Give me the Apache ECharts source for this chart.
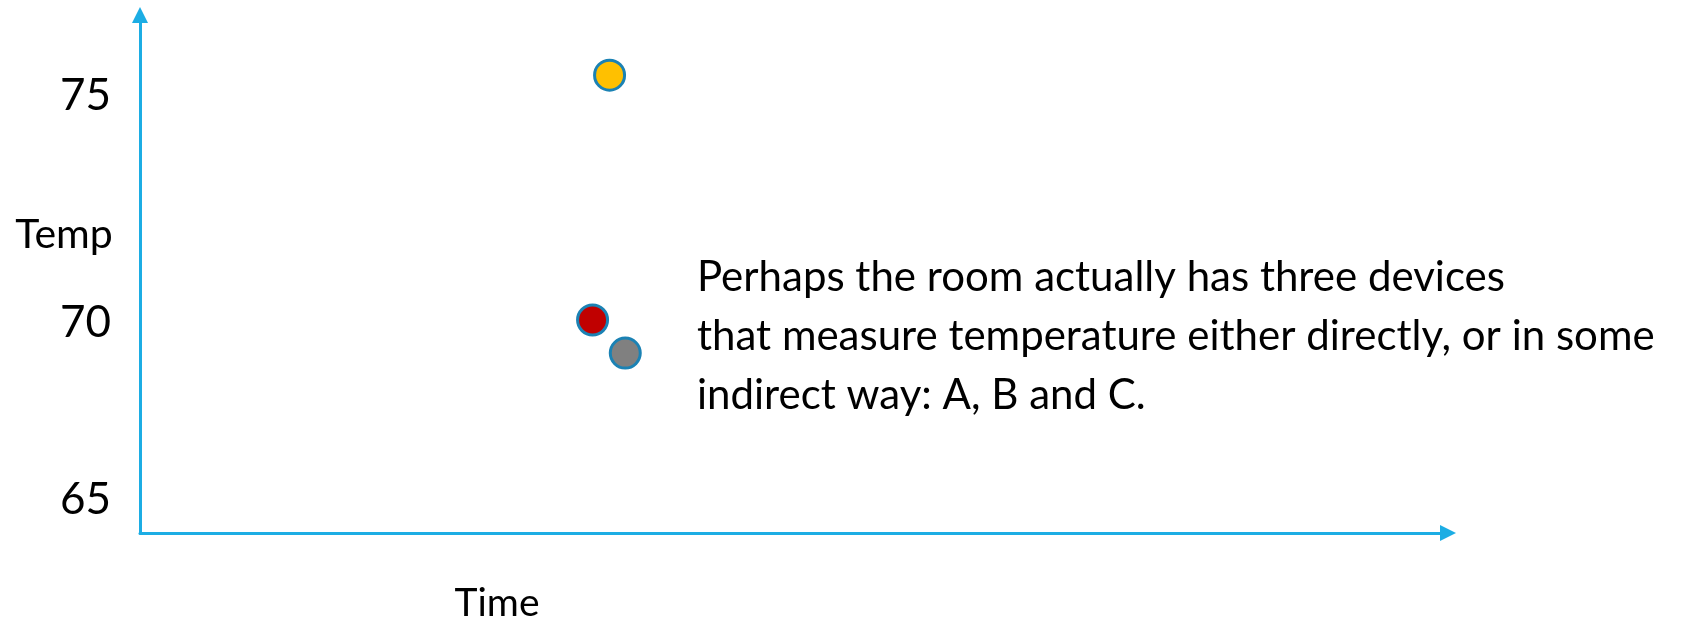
<!DOCTYPE html>
<html>
<head>
<meta charset="utf-8">
<script src="https://cdn.jsdelivr.net/npm/echarts@6/dist/echarts.min.js"></script>
<style>
html,body{margin:0;padding:0;background:#fff;}
#chart{width:1701px;height:619px;}
</style>
</head>
<body>
<div id="chart"></div>
<script>
// Data
const deviceNames = ['A', 'B', 'C'];
const deviceColors = ['#C00000', '#FFC000', '#808080'];
const timeValues = [34.6, 35.9, 37.1];
const tempValues = [69.58, 75.64, 68.76];
const yTickLabels = [65, 70, 75];
const yAxisName = 'Temp';
const xAxisName = 'Time';
const noteLines = [
  'Perhaps the room actually has three devices',
  'that measure temperature either directly, or in some',
  'indirect way: A, B and C.'
];

const FONT = 'Lato, "Open Sans", sans-serif';
const AXIS_BLUE = '#1CADE4';

const chart = echarts.init(document.getElementById('chart'), null, {renderer: 'canvas'});
chart.setOption({
  animation: false,
  backgroundColor: '#ffffff',
  grid: {left: 140, right: 1701 - 1448, top: 15, bottom: 619 - 533, containLabel: false, outerBoundsMode: 'none'},
  xAxis: {
    type: 'value', min: 0, max: 100,
    axisLine: {show: true, lineStyle: {color: AXIS_BLUE, width: 3}, symbol: ['none', 'triangle'], symbolSize: [16, 16]},
    axisTick: {show: false}, axisLabel: {show: false}, splitLine: {show: false}
  },
  yAxis: {
    type: 'value', min: 64.307, max: 77.129,
    axisLine: {show: true, lineStyle: {color: AXIS_BLUE, width: 3}, symbol: ['none', 'triangle'], symbolSize: [16, 16]},
    axisTick: {show: false},
    axisLabel: {
      show: true, customValues: yTickLabels, margin: 29, fontFamily: FONT, fontSize: 44, color: '#000',
      // the reference's labels are not evenly spaced: nudge each toward its place
      formatter: v => (v === 70 ? '{dn|' + v + '}' : '{up|' + v + '}'),
      rich: {
        up: {fontFamily: FONT, fontSize: 44, color: '#000', padding: [0, 0, 11, 0]},
        dn: {fontFamily: FONT, fontSize: 44, color: '#000', padding: [40, 0, 0, 0]}
      }
    },
    splitLine: {show: false}
  },
  graphic: [
    {type: 'text', x: 64, y: 235,
     style: {text: yAxisName, fontFamily: FONT, fontSize: 41, fill: '#000', align: 'center', verticalAlign: 'middle'}},
    {type: 'text', x: 497, y: 603,
     style: {text: xAxisName, fontFamily: FONT, fontSize: 39, fill: '#000', align: 'center', verticalAlign: 'middle'}},
    {type: 'text', left: 697, top: 248,
     style: {text: noteLines.join('\n'), fontFamily: FONT, fontSize: 42, lineHeight: 59, fill: '#000'}}
  ],
  series: [{
    type: 'scatter',
    symbolSize: 30,
    data: deviceNames.map((n, i) => ({
      name: n, value: [timeValues[i], tempValues[i]],
      itemStyle: {color: deviceColors[i], borderColor: '#1B82B4', borderWidth: 3, opacity: 1}
    }))
  }]
});
</script>
</body>
</html>
